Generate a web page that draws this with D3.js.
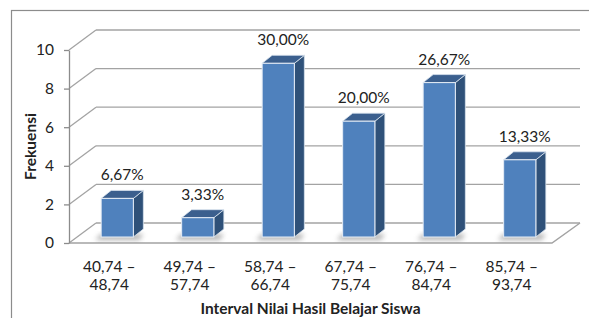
<!DOCTYPE html>
<html>
<head>
<meta charset="utf-8">
<script src="https://cdn.jsdelivr.net/npm/d3@7"></script>
<style>
  body { margin: 0; background: #fff; }
  svg { display: block; font-family: Lato, "Open Sans", sans-serif; }
</style>
</head>
<body>
<svg id="chart" width="589" height="318"></svg>
<script>
// data
var categories = ["40,74 –|48,74", "49,74 –|57,74", "58,74 –|66,74", "67,74 –|75,74", "76,74 –|84,74", "85,74 –|93,74"];
var frequencies = [2, 1, 9, 6, 8, 4];
var percentLabels = ["6,67%", "3,33%", "30,00%", "20,00%", "26,67%", "13,33%"];
var yTicks = [0, 2, 4, 6, 8, 10];

// Chart layout
var plot = { left: 69, right: 552, top: 50, bottom: 243 };
var depth = { dx: 27, dy: -20 };     // floor / wall depth
var barOff = { dx: 8, dy: -6 };      // bar front plane offset
var barDepth = { dx: 10, dy: -8 };   // bar own depth
var fontSize = 15.5;

var svg = d3.select("#chart");

var defs = svg.append("defs");
defs.append("filter").attr("id", "shadow")
    .attr("x", "-50%").attr("y", "-50%").attr("width", "200%").attr("height", "200%")
  .append("feGaussianBlur").attr("stdDeviation", 2.5);

// outer border
svg.append("rect")
    .attr("x", 11.5).attr("y", 10.5)
    .attr("width", 590).attr("height", 320)
    .attr("fill", "none").attr("stroke", "#8c8c8c").attr("stroke-width", 1.2);

var x = d3.scaleBand()
    .domain(categories)
    .range([plot.left, plot.right])
    .paddingInner(0.6)
    .paddingOuter(0.3);

var y = d3.scaleLinear()
    .domain([0, 10])
    .range([plot.bottom, plot.top]);

// gridlines: side wall diagonals + back wall horizontals
var grid = svg.append("g").attr("class", "grid");
grid.selectAll("line.diag")
    .data(yTicks)
  .enter().append("line")
    .attr("class", "diag")
    .attr("x1", plot.left).attr("y1", function (d) { return y(d); })
    .attr("x2", plot.left + depth.dx).attr("y2", function (d) { return y(d) + depth.dy; })
    .attr("stroke", "#a3a3a3").attr("stroke-width", 1.3);

grid.selectAll("line.back")
    .data(yTicks)
  .enter().append("line")
    .attr("class", "back")
    .attr("x1", plot.left + depth.dx).attr("y1", function (d) { return y(d) + depth.dy; })
    .attr("x2", plot.right + depth.dx + 1).attr("y2", function (d) { return y(d) + depth.dy; })
    .attr("stroke", "#a3a3a3").attr("stroke-width", 1.3);

// floor front and right edges
svg.append("path")
    .attr("d", "M" + plot.left + "," + y(0) + "L" + plot.right + "," + y(0) +
               "L" + (plot.right + depth.dx + 1) + "," + (y(0) + depth.dy))
    .attr("fill", "none").attr("stroke", "#a3a3a3").attr("stroke-width", 1.5);

// y axis
var yAxis = svg.append("g")
    .attr("transform", "translate(" + plot.left + ",0)")
    .call(d3.axisLeft(y).tickValues(yTicks).tickSize(5).tickSizeOuter(0).tickPadding(10));
yAxis.select(".domain").attr("stroke", "#8c8c8c").attr("stroke-width", 1.3);
yAxis.selectAll(".tick line").attr("stroke", "#8c8c8c").attr("stroke-width", 1.3);
yAxis.selectAll(".tick text")
    .attr("font-size", fontSize).attr("fill", "#222")
    .style("font-family", "Lato, 'Open Sans', sans-serif");

// bars
var bars = svg.append("g").selectAll("g.bar")
    .data(frequencies)
  .enter().append("g")
    .attr("class", "bar");

function bx(i) { return x(categories[i]) + barOff.dx; }
function by0() { return y(0) + barOff.dy; }
function by1(d) { return y(d) + barOff.dy; }

// shadow on floor
bars.append("path")
    .attr("d", function (d, i) {
        var x0 = bx(i) - 6, x1 = bx(i) + x.bandwidth() + barDepth.dx, yb = by0();
        return "M" + x0 + "," + (yb + 3) + "L" + (x1 - 4) + "," + (yb + 3) +
               "L" + x1 + "," + (yb - 3) + "L" + (x0 + 6) + "," + (yb - 3) + "Z";
    })
    .attr("fill", "#777").attr("opacity", 0.55).attr("filter", "url(#shadow)");

// side face
bars.append("path")
    .attr("d", function (d, i) {
        var xr = bx(i) + x.bandwidth();
        return "M" + xr + "," + by0() + "L" + xr + "," + by1(d) +
               "L" + (xr + barDepth.dx) + "," + (by1(d) + barDepth.dy) +
               "L" + (xr + barDepth.dx) + "," + (by0() + barDepth.dy) + "Z";
    })
    .attr("fill", "#2f5179").attr("stroke", "#dbe4ef").attr("stroke-width", 0.8);

// top face
bars.append("path")
    .attr("d", function (d, i) {
        var xl = bx(i), xr = xl + x.bandwidth(), yt = by1(d);
        return "M" + xl + "," + yt + "L" + xr + "," + yt +
               "L" + (xr + barDepth.dx) + "," + (yt + barDepth.dy) +
               "L" + (xl + barDepth.dx) + "," + (yt + barDepth.dy) + "Z";
    })
    .attr("fill", "#3b5f8e").attr("stroke", "#dbe4ef").attr("stroke-width", 0.8);

// front face
bars.append("rect")
    .attr("x", function (d, i) { return bx(i); })
    .attr("y", function (d) { return by1(d); })
    .attr("width", x.bandwidth())
    .attr("height", function (d) { return by0() - by1(d); })
    .attr("fill", "#4f81bd").attr("stroke", "#e6edf6").attr("stroke-width", 1);

// value labels
bars.append("text")
    .attr("x", function (d, i) { return bx(i) + x.bandwidth() / 2 + barDepth.dx / 2; })
    .attr("y", function (d) { return by1(d) + barDepth.dy - 10; })
    .attr("text-anchor", "middle")
    .attr("font-size", fontSize).attr("fill", "#222")
    .text(function (d, i) { return percentLabels[i]; });

// category labels (two lines each)
var catLabels = svg.append("g").selectAll("text")
    .data(categories)
  .enter().append("text")
    .attr("text-anchor", "middle")
    .attr("font-size", fontSize).attr("fill", "#222")
    .attr("transform", function (d) { return "translate(" + (x(d) + x.bandwidth() / 2) + ",272)"; });
catLabels.selectAll("tspan")
    .data(function (d) { return d.split("|"); })
  .enter().append("tspan")
    .attr("x", 0)
    .attr("dy", function (d, i) { return i === 0 ? 0 : 18; })
    .text(function (d) { return d; });

// axis titles
svg.append("text")
    .attr("x", (plot.left + plot.right) / 2)
    .attr("y", 314)
    .attr("text-anchor", "middle")
    .attr("font-size", fontSize).attr("font-weight", "bold").attr("fill", "#222")
    .text("Interval Nilai Hasil Belajar Siswa");

svg.append("text")
    .attr("transform", "translate(36," + ((plot.top + plot.bottom) / 2) + ") rotate(-90)")
    .attr("text-anchor", "middle")
    .attr("font-size", fontSize).attr("font-weight", "bold").attr("fill", "#222")
    .text("Frekuensi");
</script>
</body>
</html>
